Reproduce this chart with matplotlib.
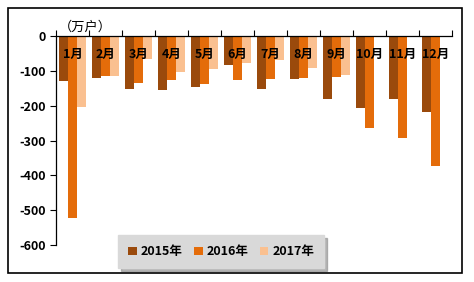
import matplotlib.pyplot as plt
import numpy as np
from matplotlib.patches import Rectangle

plt.rcParams['font.family'] = ['Noto Sans CJK SC', 'DejaVu Sans']

months = ['1月', '2月', '3月', '4月', '5月', '6月', '7月', '8月', '9月', '10月', '11月', '12月']
years = ['2015年', '2016年', '2017年']
v2015 = [-128, -120, -152, -155, -146, -83, -152, -124, -181, -206, -182, -217]
v2016 = [-522, -114, -134, -126, -138, -126, -124, -120, -117, -263, -292, -373]
v2017 = [-203, -114, -66, -103, -95, -77, -69, -91, -112, np.nan, np.nan, np.nan]
colors = ['#9A4A0C', '#E46C0A', '#FAC090']

fig = plt.figure(figsize=(4.74, 2.82), dpi=100)
ax = fig.add_axes([0.118, 0.131, 0.836, 0.741])

x = np.arange(len(months))
w = 0.27
for i, (vals, c, lab) in enumerate(zip([v2015, v2016, v2017], colors, years)):
    ax.bar(x + (i - 1) * w, vals, width=w, color=c, label=lab, zorder=2)

for xi, m in zip(x, months):
    ax.text(xi, -54, m, ha='center', va='center', fontsize=9, fontweight='bold', zorder=3)

ax.set_xlim(-0.5, 11.5)
ax.set_ylim(-600, 0)
ax.set_yticks(range(-600, 1, 100))
ax.set_yticklabels([str(v) for v in range(-600, 1, 100)], fontweight='bold', fontsize=9)
ax.xaxis.tick_top()
ax.set_xticks(np.arange(-0.5, 12, 1))
ax.set_xticklabels([])
ax.tick_params(axis='x', length=4, width=0.8, direction='out')
ax.tick_params(axis='y', length=4, width=0.8, direction='out', pad=3)
for s in ['right', 'bottom']:
    ax.spines[s].set_visible(False)
ax.spines['top'].set_linewidth(0.9)
ax.spines['left'].set_linewidth(0.9)
ax.patch.set_alpha(0)

fig.text(0.125, 0.905, '（万户）', fontsize=9.5, ha='left', va='center')

leg = ax.legend(loc='center', bbox_to_anchor=(0.417, -0.033), ncol=3, frameon=True,
                fancybox=False, shadow={'color': '#888888', 'alpha': 0.6},
                prop={'weight': 'bold', 'size': 9},
                handlelength=0.7, handleheight=0.7, handletextpad=0.3, columnspacing=0.9,
                borderpad=0.8, borderaxespad=0)
leg.get_frame().set_facecolor('#D9D9D9')
leg.get_frame().set_edgecolor('#D9D9D9')
leg.get_frame().set_alpha(1)

fig.patches.append(Rectangle((8 / 474, 1 - 273 / 282), 454 / 474, 265 / 282,
                             transform=fig.transFigure, fill=False, edgecolor='black', linewidth=1.2))

fig.savefig('out.png', dpi=100)
